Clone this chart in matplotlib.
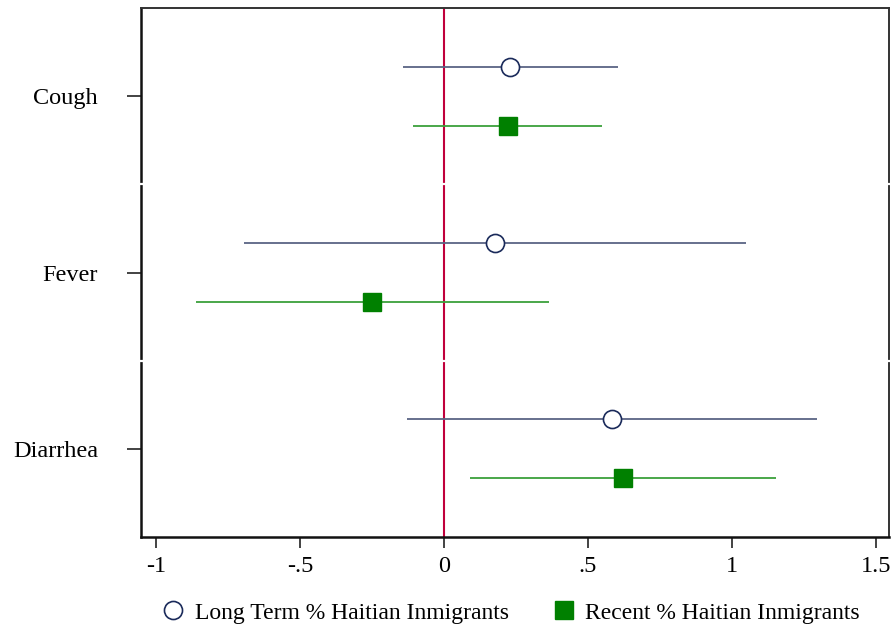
import matplotlib
matplotlib.use("Agg")
from matplotlib import pyplot as plt
from matplotlib.lines import Line2D

plt.rcParams['font.family'] = ['Liberation Serif', 'DejaVu Serif']

symptoms = ['Cough', 'Fever', 'Diarrhea']

# long term share of Haitian immigrants
long_coef = [0.229, 0.177, 0.582]
long_lo = [-0.142, -0.693, -0.128]
long_hi = [0.603, 1.050, 1.296]

# recent share of Haitian immigrants
recent_coef = [0.222, -0.250, 0.620]
recent_lo = [-0.107, -0.860, 0.090]
recent_hi = [0.548, 0.364, 1.151]

xticks = [-1, -0.5, 0, 0.5, 1, 1.5]
xticklabels = ['-1', '-.5', '0', '.5', '1', '1.5']

navy = '#1a2a5a'
navy_ci = '#5a6585'
green = '#008000'
green_ci = '#3ca03c'

fig = plt.figure(figsize=(8.93, 6.29), dpi=100)
ax = fig.add_axes([141 / 893, 1 - 537 / 629, 748 / 893, 529 / 629])

offset = 0.167
pos = list(range(len(symptoms)))
y_long = [p - offset for p in pos]
y_recent = [p + offset for p in pos]

ax.hlines(y_long, long_lo, long_hi, color=navy_ci, lw=1.3, zorder=2)
ax.hlines(y_recent, recent_lo, recent_hi, color=green_ci, lw=1.3, zorder=2)
ax.axvline(0, color='#c0003c', lw=1.5, zorder=1)
ax.plot(long_coef, y_long, 'o', ms=13, mfc='white', mec=navy, mew=1.2,
        ls='none', zorder=3)
ax.plot(recent_coef, y_recent, 's', ms=13.5, mfc=green, mec=green,
        ls='none', zorder=3)

ax.set_xlim(-1.052, 1.545)
ax.set_ylim(2.5, -0.5)
ax.set_xticks(xticks)
ax.set_xticklabels(xticklabels)
ax.set_yticks(pos)
ax.set_yticklabels(symptoms)
ax.tick_params(axis='both', labelsize=17.5, color='#222222', width=1.2,
               length=8, pad=6)
ax.tick_params(axis='y', length=10, pad=21)
for sp in ax.spines.values():
    sp.set_color('#333333')
    sp.set_linewidth(1.4)
ax.spines['left'].set_color('#111111')
ax.spines['left'].set_linewidth(1.8)
ax.spines['bottom'].set_color('#111111')
ax.spines['bottom'].set_linewidth(1.8)

# white separators between symptom groups cut through the frame
for yb in [0.5, 1.5]:
    ax.plot([-1.06, 1.553], [yb, yb], color='white', lw=1.6,
            clip_on=False, zorder=5)

handles = [
    Line2D([], [], marker='o', ls='none', ms=13, mfc='white', mec=navy,
           mew=1.2),
    Line2D([], [], marker='s', ls='none', ms=13.5, mfc=green, mec=green),
]
fig.legend(handles, ['Long Term % Haitian Inmigrants',
                     'Recent % Haitian Inmigrants'],
           loc='center', bbox_to_anchor=(0.5717, 1 - 613 / 629), ncol=2,
           frameon=False, fontsize=17, handletextpad=0.4,
           columnspacing=1.83, handlelength=1.0)

fig.savefig('out.png', dpi=100, facecolor='white')
